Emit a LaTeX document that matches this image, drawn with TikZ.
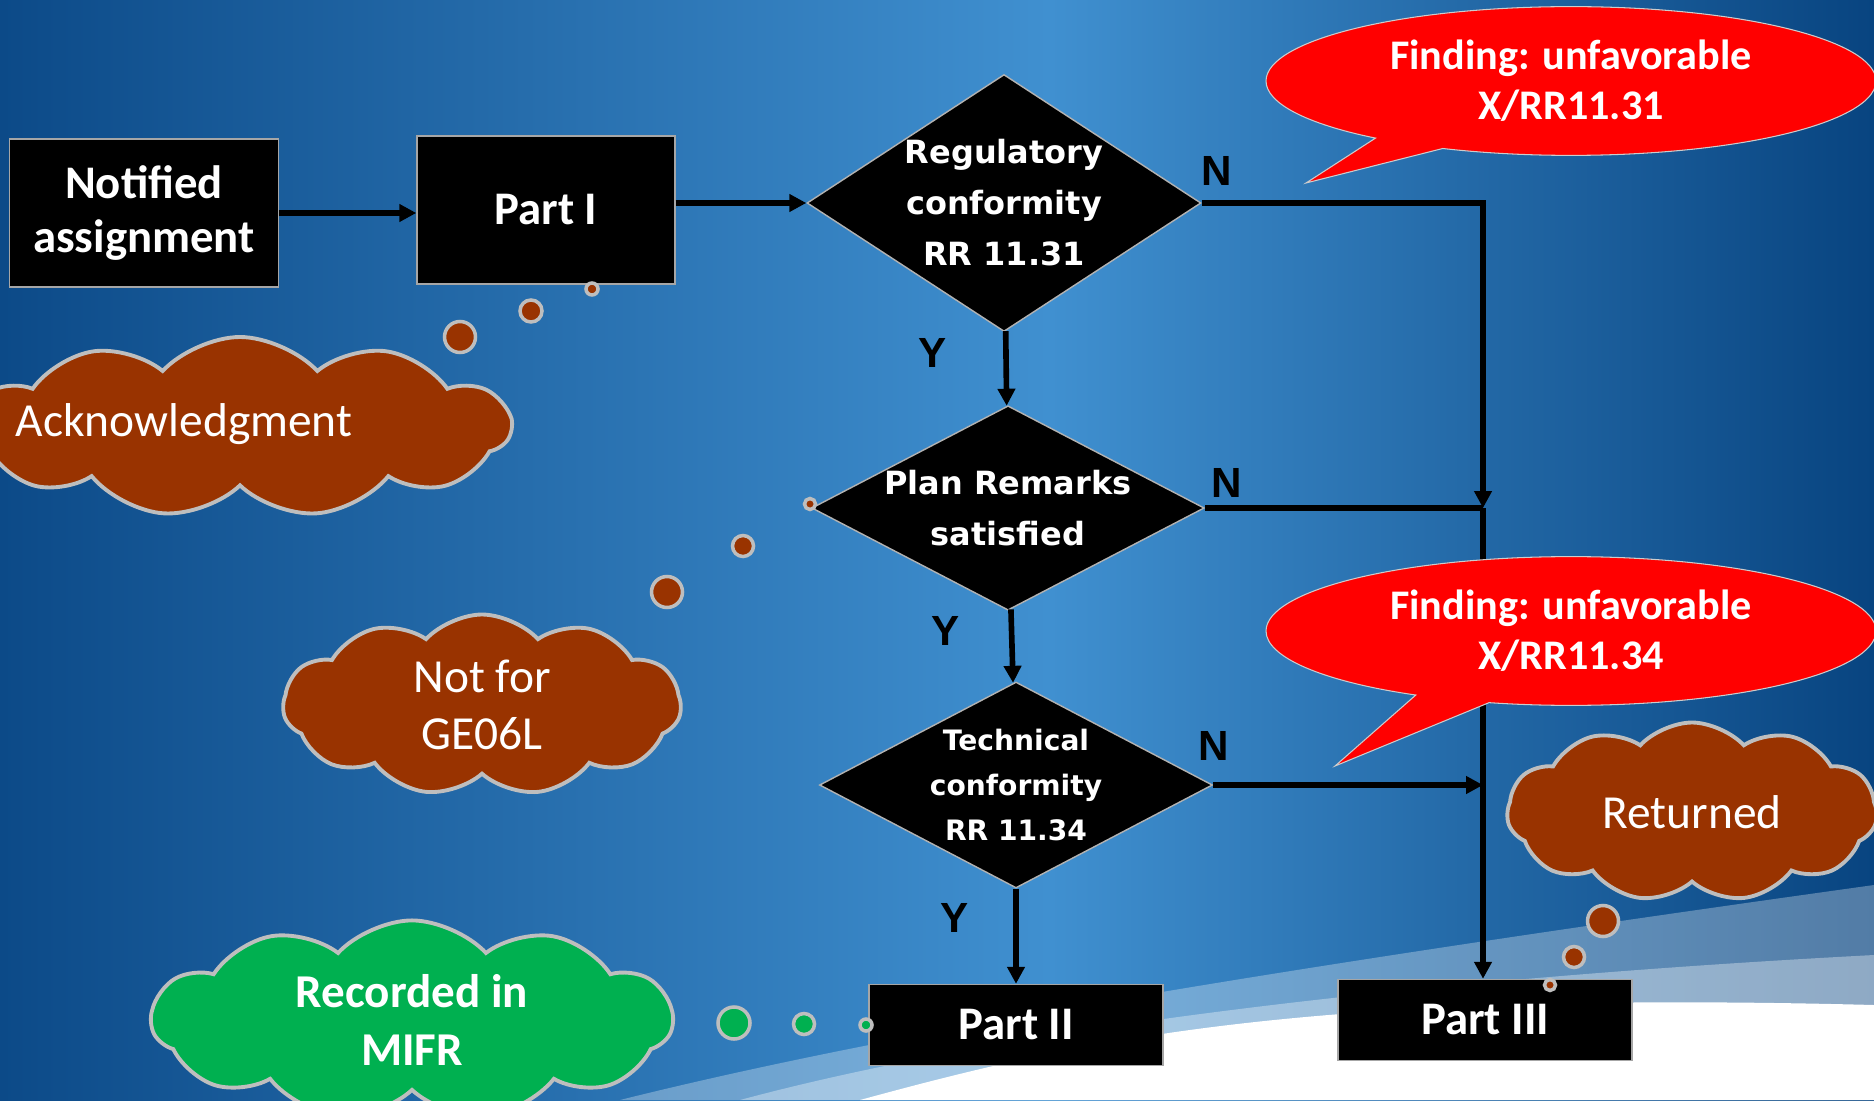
\documentclass[tikz,border=0pt]{standalone}
\usepackage{fontspec}
\setmainfont{Carlito}
\newfontfamily\diafont{DejaVu Sans}
\newfontfamily\ynfont{Liberation Sans}
\usetikzlibrary{shapes.geometric,shapes.symbols,shapes.callouts,arrows.meta}
\definecolor{bgleft}{RGB}{12,74,136}
\definecolor{bglight}{RGB}{64,144,208}
\definecolor{bgright}{RGB}{8,68,128}
\definecolor{cloudbrown}{RGB}{153,51,0}
\definecolor{cloudgreen}{RGB}{0,176,80}
\definecolor{rimgray}{RGB}{190,190,190}
\pgfdeclarehorizontalshading{slidebg}{100bp}{color(0bp)=(bgleft); color(25bp)=(bgleft); color(53bp)=(bglight); color(75bp)=(bgright); color(100bp)=(bgright)}

\begin{document}
\begin{tikzpicture}[
  box/.style={draw=gray!70, fill=black, text=white, inner sep=0pt, align=center,
    font=\fontsize{13.3}{15.5}\selectfont\bfseries},
  test/.style={diamond, draw=gray!60, fill=black, text=white, inner sep=0pt, align=center},
  yn/.style={font=\ynfont\fontsize{12}{14}\selectfont\bfseries},
  flow/.style={line width=1.6pt, -{Triangle[length=0.17cm,width=0.17cm]}},
  finding/.style={ellipse callout, fill=red, draw=gray!40, line width=0.3pt, text=white,
    align=center, font=\fontsize{12}{14.3}\selectfont\bfseries,
    minimum width=6.1cm, minimum height=1.48cm},
  remark/.style={cloud, cloud puffs=11, cloud puff arc=95, cloud ignores aspect, fill=cloudbrown,
    draw=rimgray, line width=1.1pt, text=white, align=center, font=\fontsize{13.5}{16}\selectfont},
  bubble/.style={circle, fill=cloudbrown, draw=rimgray, line width=1pt, inner sep=0pt}
]
\useasboundingbox (0,0) rectangle (18.74,-11);
\clip (0,0) rectangle (18.74,-11);
\shade[shading=slidebg] (0,0) rectangle (18.74,-11);

% swoosh at the bottom right
\fill[white, opacity=0.3] (6.2,-11) .. controls (9,-10.3) and (13,-9.65) .. (18.74,-8.85) -- (18.74,-11) -- cycle;
\fill[white, opacity=0.35] (7.4,-11) .. controls (10,-10.3) and (14,-9.8) .. (18.74,-9.55) -- (18.74,-11) -- cycle;
\fill[white] (8.6,-11) .. controls (10.8,-10.4) and (13,-9.9) .. (18.74,-10.05) -- (18.74,-11) -- cycle;

\node[box, minimum width=2.69cm, minimum height=1.48cm] (1) at (1.44,-2.13) {Notified\\assignment};
\node[box, minimum width=2.58cm, minimum height=1.48cm] (2) at (5.46,-2.10) {Part I};
\node[test, minimum width=3.94cm, minimum height=2.57cm, shape aspect=1.53,
  font=\diafont\fontsize{9.1}{14.5}\selectfont\bfseries] (3) at (10.04,-2.03) {Regulatory\\conformity\\RR 11.31};
\node[test, minimum width=3.90cm, minimum height=2.03cm, shape aspect=1.92,
  font=\diafont\fontsize{9.1}{14.5}\selectfont\bfseries] (4) at (10.08,-5.08) {Plan Remarks\\satisfied};
\node[test, minimum width=3.93cm, minimum height=2.06cm, shape aspect=1.91,
  font=\diafont\fontsize{8}{12.9}\selectfont\bfseries] (5) at (10.16,-7.85) {Technical\\conformity\\RR 11.34};
\node[box, minimum width=2.94cm, minimum height=0.81cm] (6) at (10.16,-10.25) {Part II};
\node[box, minimum width=2.94cm, minimum height=0.81cm] (7) at (14.85,-10.20) {Part III};
\coordinate (j) at (14.83,-5.08);

\draw[flow] (1.east) -- (1.east -| 2.west);
\draw[flow] (2.east |- 3.west) -- (3.west);
\draw[flow] (3) -- (4);
\draw[flow] (4) -- (5);
\draw[flow] (5) -- (6);
\draw[flow] (3.east) -| (j);
\draw[line width=1.6pt] (4.east) -- (j);
\draw[flow] (j) -- (j |- 7.north);
\draw[flow] (5.east) -- (5.east -| j);

\node[yn] (n1) at (12.17,-1.71) {N};
\node[yn] (y1) at (9.33,-3.53) {Y};
\node[yn] (n2) at (12.27,-4.83) {N};
\node[yn] (y2) at (9.46,-6.31) {Y};
\node[yn] (n3) at (12.14,-7.46) {N};
\node[yn] (y3) at (9.55,-9.18) {Y};

\node[finding, callout absolute pointer={(13.06,-1.83)}] (f1) at (15.71,-0.81) {Finding: unfavorable\\X/RR11.31};
\node[finding, callout absolute pointer={(13.35,-7.66)}] (f2) at (15.71,-6.31) {Finding: unfavorable\\X/RR11.34};

% thought clouds
\node[remark, minimum width=5.41cm, minimum height=1.80cm] (c1) at (2.40,-4.27) {};
\node[text=white, font=\fontsize{13.5}{16}\selectfont] (t1) at (1.84,-4.24) {Acknowledgment};
\node[remark, minimum width=3.98cm, minimum height=1.81cm] (c2) at (4.82,-7.05) {Not for\\GE06L};
\node[remark, minimum width=3.70cm, minimum height=1.79cm] (c3) at (16.92,-8.12) {Returned};
\node[remark, fill=cloudgreen, minimum width=5.21cm, minimum height=1.90cm,
  font=\fontsize{13.4}{16.3}\selectfont\bfseries] (c4) at (4.12,-10.20) {Recorded in\\MIFR};

\node[bubble, minimum size=0.31cm] (b1) at (4.60,-3.37) {};
\node[bubble, minimum size=0.22cm] (b2) at (5.31,-3.11) {};
\node[bubble, minimum size=0.12cm] (b3) at (5.92,-2.89) {};
\node[bubble, minimum size=0.31cm] (b4) at (6.67,-5.92) {};
\node[bubble, minimum size=0.21cm] (b5) at (7.43,-5.46) {};
\node[bubble, minimum size=0.11cm] (b6) at (8.10,-5.04) {};
\node[bubble, minimum size=0.31cm] (b7) at (16.03,-9.21) {};
\node[bubble, minimum size=0.21cm] (b8) at (15.74,-9.57) {};
\node[bubble, minimum size=0.11cm] (b9) at (15.50,-9.85) {};
\node[bubble, fill=cloudgreen, minimum size=0.32cm] (b10) at (7.34,-10.23) {};
\node[bubble, fill=cloudgreen, minimum size=0.21cm] (b11) at (8.04,-10.24) {};
\node[bubble, fill=cloudgreen, minimum size=0.12cm] (b12) at (8.66,-10.25) {};
\end{tikzpicture}
\end{document}
